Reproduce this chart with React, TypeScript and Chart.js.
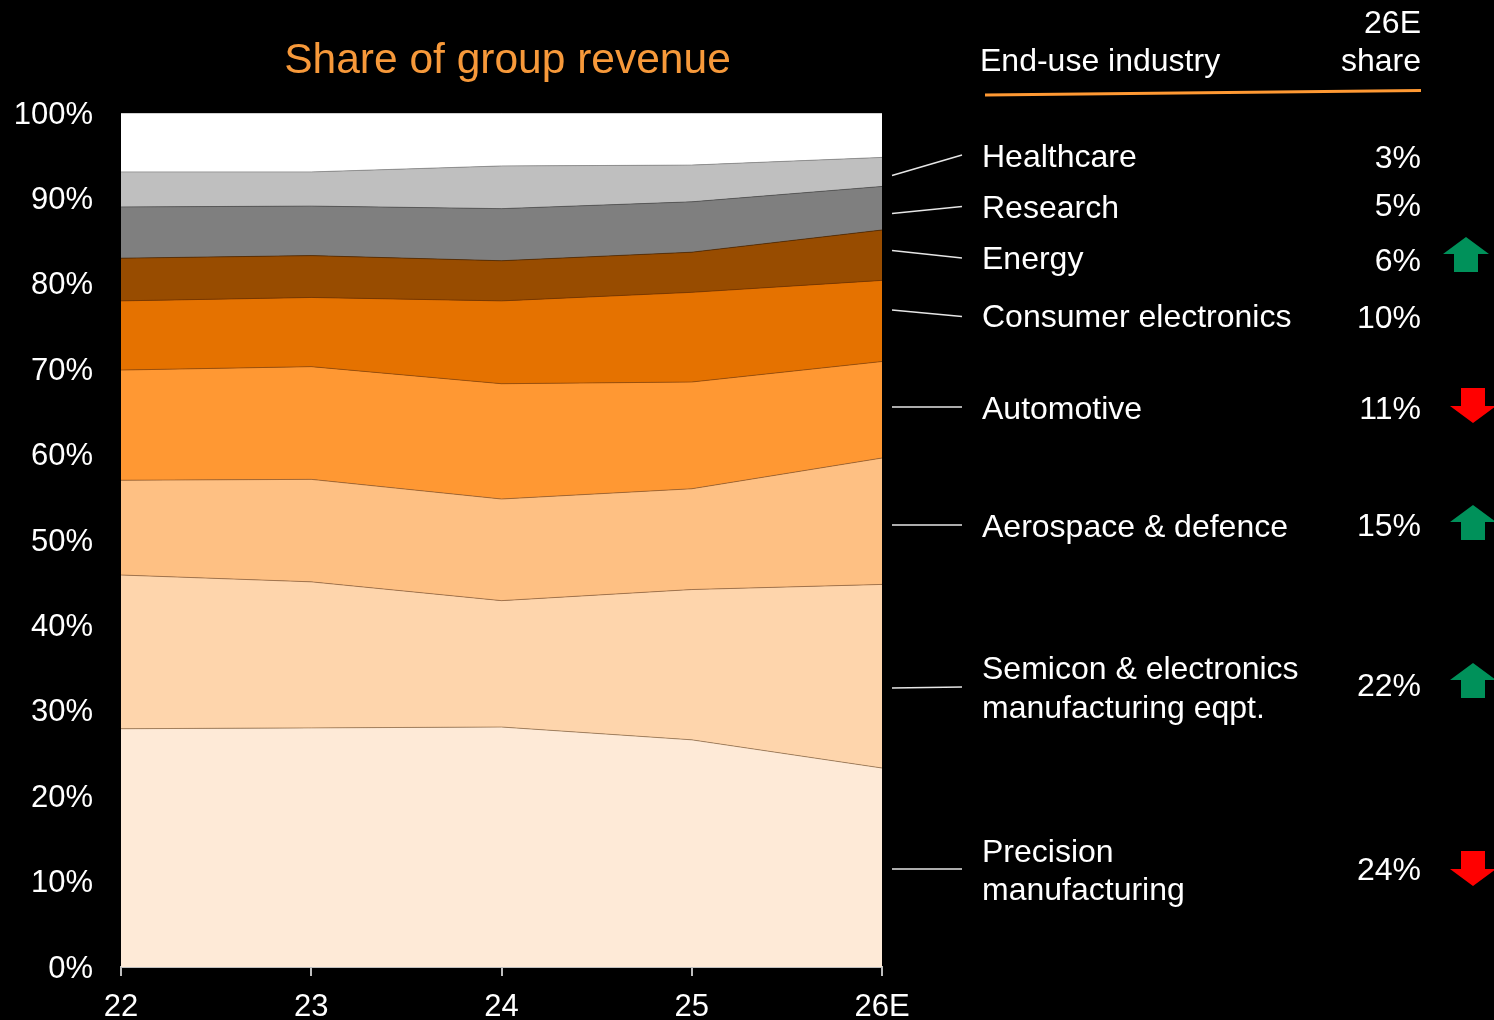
import React, { useEffect, useRef } from 'react';
import { Chart, registerables } from 'chart.js';

Chart.register(...registerables);

// ---------- data (shares in % of group revenue) ----------
const years = ['22', '23', '24', '25', '26E'];
const precision = [27.9, 28.0, 28.1, 26.6, 23.3];
const semicon = [18.0, 17.1, 14.8, 17.6, 21.5];
const aerospace = [11.1, 12.0, 11.9, 11.8, 14.8];
const automotive = [12.9, 13.2, 13.5, 12.5, 11.3];
const consumer = [8.1, 8.1, 9.7, 10.5, 9.5];
const energy = [5.0, 4.9, 4.7, 4.7, 5.9];
const research = [6.0, 5.8, 6.1, 5.9, 5.1];
const healthcare = [4.1, 4.0, 5.0, 4.3, 3.4];
const other = [6.9, 6.9, 6.2, 6.1, 5.2];

const industryLines = [
  ['Precision', 'manufacturing'],
  ['Semicon & electronics', 'manufacturing eqpt.'],
  ['Aerospace & defence'],
  ['Automotive'],
  ['Consumer electronics'],
  ['Energy'],
  ['Research'],
  ['Healthcare'],
];
const shareLabels = ['24%', '22%', '15%', '11%', '10%', '6%', '5%', '3%'];
const trends = ['down', 'up', 'up', 'down', 'none', 'up', 'none', 'none'];

const titleText = 'Share of group revenue';
const headerLeft = 'End-use industry';
const headerRight = ['26E', 'share'];

// ---------- styles / layout ----------
const FONT = '"Liberation Sans", Arial, Helvetica, sans-serif';
const layerColors = ['#FEEAD7', '#FED5AC', '#FEC083', '#FF9833', '#E57200', '#984C00', '#7F7F7F', '#BFBFBF', '#FFFFFF'];
const layerBorders = [
  'rgba(150,110,70,0.7)', 'rgba(150,100,60,0.7)', 'rgba(150,90,40,0.7)', 'rgba(140,70,10,0.7)',
  'rgba(110,50,0,0.7)', 'rgba(80,40,0,0.7)', 'rgba(80,80,80,0.7)', 'rgba(140,140,140,0.8)', 'rgba(150,150,150,0.9)',
];
const legendPos = [
  { base: [862, 900], vBase: 880, conn: [869, 869], arrow: { cx: 1473, top: 851 } },
  { base: [679, 718], vBase: 696, conn: [688, 687], arrow: { cx: 1473, top: 663 } },
  { base: [537], vBase: 536, conn: [525, 525], arrow: { cx: 1473, top: 505 } },
  { base: [419], vBase: 419, conn: [407, 407], arrow: { cx: 1473, top: 388 } },
  { base: [327], vBase: 328, conn: [310, 316.5], arrow: null },
  { base: [269], vBase: 271, conn: [250.5, 258], arrow: { cx: 1466, top: 237 } },
  { base: [218], vBase: 216, conn: [213.5, 206.5], arrow: null },
  { base: [167], vBase: 168, conn: [175.5, 155], arrow: null },
];

function drawArrow(ctx: CanvasRenderingContext2D, cx: number, top: number, dir: string) {
  const headHalf = 23, stemHalf = 12, headH = 17, stemH = 18;
  ctx.save();
  ctx.beginPath();
  if (dir === 'up') {
    ctx.fillStyle = '#00915A';
    ctx.moveTo(cx, top);
    ctx.lineTo(cx + headHalf, top + headH);
    ctx.lineTo(cx + stemHalf, top + headH);
    ctx.lineTo(cx + stemHalf, top + headH + stemH);
    ctx.lineTo(cx - stemHalf, top + headH + stemH);
    ctx.lineTo(cx - stemHalf, top + headH);
    ctx.lineTo(cx - headHalf, top + headH);
  } else {
    ctx.fillStyle = '#FF0000';
    ctx.moveTo(cx - stemHalf, top);
    ctx.lineTo(cx + stemHalf, top);
    ctx.lineTo(cx + stemHalf, top + stemH);
    ctx.lineTo(cx + headHalf, top + stemH);
    ctx.lineTo(cx, top + stemH + headH);
    ctx.lineTo(cx - headHalf, top + stemH);
    ctx.lineTo(cx - stemHalf, top + stemH);
  }
  ctx.closePath();
  ctx.fill();
  ctx.restore();
}

const panelPlugin = {
  id: 'panelPlugin',
  afterDraw(chart: any) {
    const ctx: CanvasRenderingContext2D = chart.ctx;
    const area = chart.chartArea;
    ctx.save();
    // title
    ctx.fillStyle = '#F7993A';
    ctx.font = `42.5px ${FONT}`;
    ctx.textAlign = 'center';
    ctx.textBaseline = 'alphabetic';
    ctx.fillText(titleText, (area.left + area.right) / 2 + 6, 73);

    // header
    ctx.fillStyle = '#FFFFFF';
    ctx.font = `32px ${FONT}`;
    ctx.textAlign = 'left';
    ctx.fillText(headerLeft, 980, 71);
    ctx.textAlign = 'right';
    ctx.fillText(headerRight[0], 1421, 33);
    ctx.fillText(headerRight[1], 1421, 71);

    ctx.strokeStyle = '#FF9933';
    ctx.lineWidth = 3;
    ctx.beginPath();
    ctx.moveTo(985, 95);
    ctx.lineTo(1421, 90.5);
    ctx.stroke();

    // legend rows
    const connX0 = area.right + 10;
    const connX1 = 962;
    industryLines.forEach((lines, i) => {
      const p = legendPos[i];
      ctx.strokeStyle = '#E6E6E6';
      ctx.lineWidth = 1.5;
      ctx.beginPath();
      ctx.moveTo(connX0, p.conn[0]);
      ctx.lineTo(connX1, p.conn[1]);
      ctx.stroke();

      ctx.fillStyle = '#FFFFFF';
      ctx.font = `32px ${FONT}`;
      ctx.textAlign = 'left';
      lines.forEach((t, j) => ctx.fillText(t, 982, p.base[j]));
      ctx.textAlign = 'right';
      ctx.fillText(shareLabels[i], 1421, p.vBase);
      if (p.arrow && trends[i] !== 'none') drawArrow(ctx, p.arrow.cx, p.arrow.top, trends[i]);
    });
    ctx.restore();
  },
};

export default function App() {
  const ref = useRef<HTMLCanvasElement>(null);
  useEffect(() => {
    document.body.style.margin = '0';
    document.body.style.background = '#000';
    const canvas = ref.current!;
    const series = [precision, semicon, aerospace, automotive, consumer, energy, research, healthcare, other];
    const names = [...industryLines.map((l) => l.join(' ')), 'Other'];
    const chart = new Chart(canvas, {
      type: 'line',
      data: {
        labels: years,
        datasets: series.map((d, i) => ({
          label: names[i],
          data: d,
          backgroundColor: layerColors[i],
          borderColor: layerBorders[i],
          borderWidth: 1,
          fill: i === 0 ? 'origin' : '-1',
          pointRadius: 0,
          pointHoverRadius: 0,
          tension: 0,
        })),
      },
      options: {
        animation: false,
        responsive: false,
        maintainAspectRatio: false,
        devicePixelRatio: 1,
        layout: { padding: { left: 0, top: 113, right: 612, bottom: 0 } },
        plugins: { legend: { display: false }, tooltip: { enabled: false }, title: { display: false } },
        scales: {
          x: {
            type: 'category',
            offset: false,
            afterFit: (s: any) => { s.height = 53; },
            grid: { display: true, drawOnChartArea: false, drawTicks: true, tickLength: 9, color: '#BFBFBF', lineWidth: 2 },
            border: { display: true, color: '#BFBFBF', width: 2 },
            ticks: { color: '#FFFFFF', font: { family: FONT, size: 31 }, padding: 13, maxRotation: 0, autoSkip: false },
          },
          y: {
            stacked: true,
            min: 0,
            max: 100,
            afterFit: (s: any) => { s.width = 121; },
            grid: { display: false, drawTicks: false },
            border: { display: false },
            ticks: {
              stepSize: 10,
              color: '#FFFFFF',
              font: { family: FONT, size: 31 },
              padding: 28,
              labelOffset: 2,
              callback: (v: any) => `${v}%`,
            },
          },
        },
      },
      plugins: [panelPlugin],
    });
    return () => chart.destroy();
  }, []);
  return (
    <div style={{ position: 'fixed', left: 0, top: 0, width: 1494, height: 1020, background: '#000', overflow: 'hidden' }}>
      <canvas ref={ref} width={1494} height={1020} style={{ display: 'block', width: 1494, height: 1020 }} />
    </div>
  );
}
